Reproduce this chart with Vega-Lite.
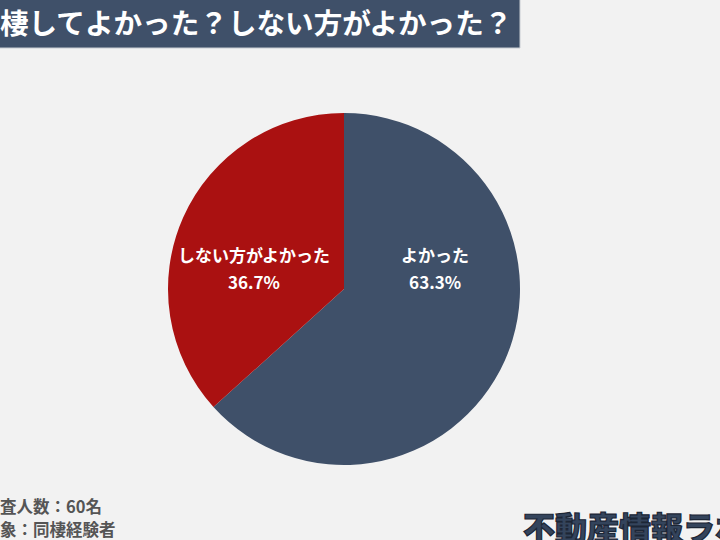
{
  "$schema": "https://vega.github.io/schema/vega-lite/v6.json",
  "description": "同棲してよかった？しない方がよかった？",
  "autosize": {"type": "none"},
  "width": 688,
  "height": 502,
  "padding": {"left": 0, "top": 38, "right": 32, "bottom": 0},
  "background": "#f2f2f2",
  "config": {"view": {"stroke": null}, "font": "Noto Sans CJK JP"},
  "datasets": {
    "answers": [
      {"answer": "よかった", "share": 0.633},
      {"answer": "しない方がよかった", "share": 0.367}
    ]
  },
  "layer": [
    {
      "data": {"name": "answers"},
      "mark": {"type": "arc", "radius": 176},
      "encoding": {
        "theta": {"field": "share", "type": "quantitative", "stack": true},
        "order": {"field": "share", "sort": "descending"},
        "color": {
          "field": "answer",
          "type": "nominal",
          "scale": {"domain": ["よかった", "しない方がよかった"], "range": ["#3f5069", "#aa1111"]},
          "legend": null
        }
      }
    },
    {
      "data": {"name": "answers"},
      "mark": {"type": "text", "radius": 93, "thetaOffset": -0.62, "dy": -13, "fontSize": 17, "fontWeight": "bold", "fill": "white"},
      "encoding": {
        "theta": {"field": "share", "type": "quantitative", "stack": true},
        "order": {"field": "share", "sort": "descending"},
        "text": {"condition": {"test": "datum.answer === 'よかった'", "field": "answer"}, "value": ""}
      }
    },
    {
      "data": {"name": "answers"},
      "mark": {"type": "text", "radius": 93, "thetaOffset": -0.62, "dy": 14, "fontSize": 17, "fontWeight": "bold", "fill": "white"},
      "encoding": {
        "theta": {"field": "share", "type": "quantitative", "stack": true},
        "order": {"field": "share", "sort": "descending"},
        "text": {"condition": {"test": "datum.answer === 'よかった'", "field": "share", "format": ".1%"}, "value": ""}
      }
    },
    {
      "data": {"name": "answers"},
      "mark": {"type": "text", "radius": 92, "thetaOffset": -0.21, "dy": -13, "fontSize": 17, "fontWeight": "bold", "fill": "white"},
      "encoding": {
        "theta": {"field": "share", "type": "quantitative", "stack": true},
        "order": {"field": "share", "sort": "descending"},
        "text": {"condition": {"test": "datum.answer !== 'よかった'", "field": "answer"}, "value": ""}
      }
    },
    {
      "data": {"name": "answers"},
      "mark": {"type": "text", "radius": 92, "thetaOffset": -0.21, "dy": 14, "fontSize": 17, "fontWeight": "bold", "fill": "white"},
      "encoding": {
        "theta": {"field": "share", "type": "quantitative", "stack": true},
        "order": {"field": "share", "sort": "descending"},
        "text": {"condition": {"test": "datum.answer !== 'よかった'", "field": "share", "format": ".1%"}, "value": ""}
      }
    },
    {
      "data": {"values": [{"title": "同棲してよかった？しない方がよかった？"}]},
      "mark": {"type": "rect", "fill": "#3f5069", "stroke": "#c8ccd2", "strokeWidth": 1},
      "encoding": {
        "x": {"value": -2},
        "x2": {"value": 520},
        "y": {"value": -40},
        "y2": {"value": 10}
      }
    },
    {
      "data": {"values": [{"title": "同棲してよかった？しない方がよかった？"}]},
      "mark": {"type": "text", "align": "left", "baseline": "middle", "fontSize": 28.6, "fontWeight": "bold", "fill": "white"},
      "encoding": {
        "text": {"field": "title"},
        "x": {"value": -28.6},
        "y": {"value": -13}
      }
    },
    {
      "data": {"values": [{"note": "調査人数：60名"}]},
      "mark": {"type": "text", "align": "left", "baseline": "middle", "fontSize": 16.5, "fontWeight": "bold", "fill": "#555555"},
      "encoding": {
        "text": {"field": "note"},
        "x": {"value": -16.5},
        "y": {"value": 470}
      }
    },
    {
      "data": {"values": [{"note": "調査対象：同棲経験者"}]},
      "mark": {"type": "text", "align": "left", "baseline": "middle", "fontSize": 16.5, "fontWeight": "bold", "fill": "#555555"},
      "encoding": {
        "text": {"field": "note"},
        "x": {"value": -49.5},
        "y": {"value": 493}
      }
    },
    {
      "data": {"values": [{"brand": "不動産情報ラボ"}]},
      "mark": {"type": "text", "align": "left", "baseline": "middle", "fontSize": 32, "fontWeight": 900, "fill": "#34445c", "stroke": "#1c2636", "strokeWidth": 1.2},
      "encoding": {
        "text": {"field": "brand"},
        "x": {"value": 523},
        "y": {"value": 492}
      }
    }
  ]
}
